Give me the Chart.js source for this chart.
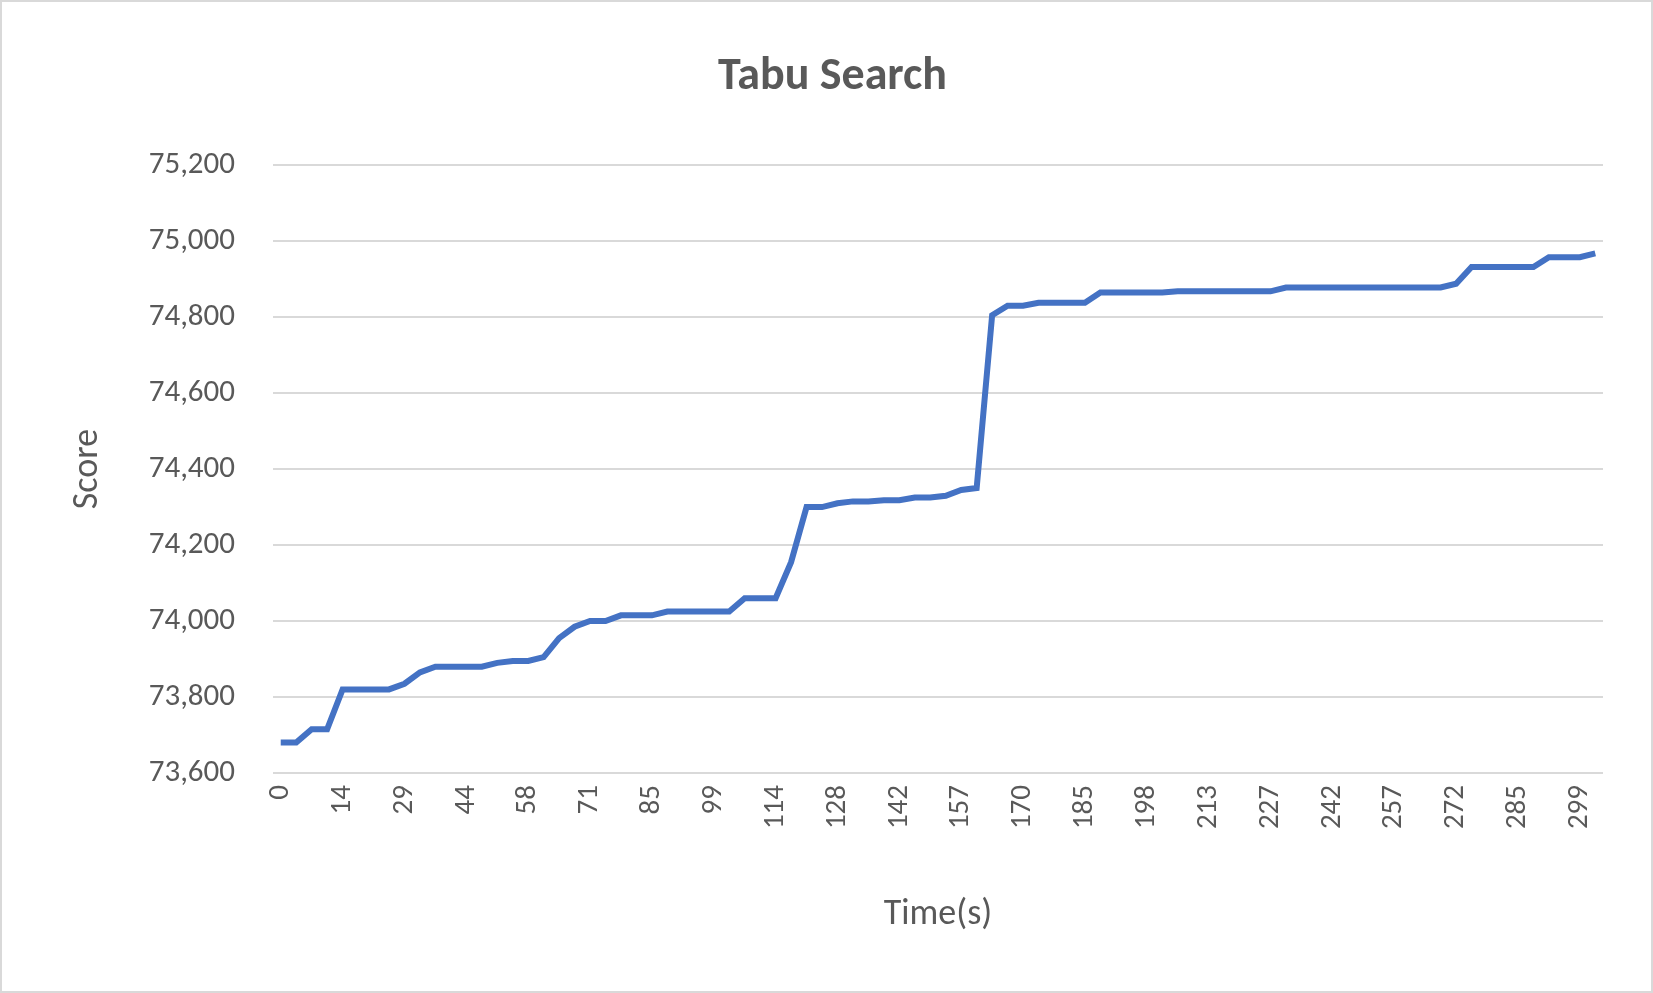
<!DOCTYPE html>
<html>
<head>
<meta charset="utf-8">
<script src="https://cdn.jsdelivr.net/npm/chart.js@4/dist/chart.umd.min.js"></script>
<style>
  html, body { margin: 0; padding: 0; background: #fff; }
  #wrap { position: absolute; left: 0; top: 0; width: 1649px; height: 989px; border: 2px solid #d9d9d9; }
</style>
</head>
<body>
<div id="wrap"><canvas id="chart" width="1649" height="989"></canvas></div>
<script>
// time labels (s), one per sample; only every 4th is shown on the axis
const timeLabels = [
  0, 4, 7, 11, 14, 18, 22, 25, 29, 33, 37, 40, 44, 47, 51, 54,
  58, 61, 64, 68, 71, 75, 78, 82, 85, 89, 92, 96, 99, 103, 107, 110,
  114, 117, 121, 124, 128, 132, 135, 139, 142, 146, 150, 153, 157, 160, 163, 167,
  170, 174, 178, 181, 185, 188, 191, 195, 198, 202, 206, 209, 213, 216, 220, 223,
  227, 231, 235, 238, 242, 246, 250, 253, 257, 261, 265, 268, 272, 275, 279, 282,
  285, 289, 292, 296, 299, 303
];

const scores = [
  73680, 73680, 73715, 73715, 73820, 73820, 73820, 73820, 73835, 73865, 73880, 73880, 73880, 73880, 73890, 73895,
  73895, 73905, 73955, 73985, 74000, 74000, 74015, 74015, 74015, 74025, 74025, 74025, 74025, 74025, 74060, 74060,
  74060, 74155, 74300, 74300, 74310, 74315, 74315, 74318, 74318, 74325, 74325, 74330, 74345, 74350, 74805, 74830,
  74830, 74838, 74838, 74838, 74838, 74865, 74865, 74865, 74865, 74865, 74868, 74868, 74868, 74868, 74868, 74868,
  74868, 74878, 74878, 74878, 74878, 74878, 74878, 74878, 74878, 74878, 74878, 74878, 74888, 74932, 74932, 74932,
  74932, 74932, 74958, 74958, 74958, 74968
];

const yTicks = [73600, 73800, 74000, 74200, 74400, 74600, 74800, 75000, 75200];

const grey = '#595959';
const font = 'Calibri, "Liberation Sans", "Open Sans", sans-serif';

new Chart(document.getElementById('chart'), {
  type: 'line',
  data: {
    labels: timeLabels,
    datasets: [{
      label: 'Score',
      data: scores,
      borderColor: '#4472c4',
      borderWidth: 6,
      pointRadius: 0,
      tension: 0,
      fill: false
    }]
  },
  options: {
    responsive: false,
    animation: false,
    layout: { padding: { left: 60, right: 48, top: 10, bottom: 50 } },
    plugins: {
      legend: { display: false },
      tooltip: { enabled: false },
      title: {
        display: true,
        text: 'Tabu Search',
        color: grey,
        font: { family: font, size: 46 },
        padding: { top: 38, bottom: 60 }
      }
    },
    scales: {
      x: {
        type: 'category',
        offset: true,
        grid: { display: false },
        border: { display: false },
        ticks: {
          color: grey,
          font: { family: font, size: 29 },
          autoSkip: false,
          minRotation: 90,
          maxRotation: 90,
          padding: 4,
          callback: function (value, index) {
            return index % 4 === 0 ? this.getLabelForValue(value) : null;
          }
        },
        title: {
          display: true,
          text: 'Time(s)',
          color: grey,
          font: { family: font, size: 36 },
          padding: { top: 10 }
        },
        afterFit: (axis) => { axis.height = 168; }
      },
      y: {
        min: 73600,
        max: 75200,
        afterBuildTicks: (axis) => { axis.ticks = yTicks.map(v => ({ value: v })); },
        grid: { color: '#d9d9d9', lineWidth: 2, drawTicks: false },
        border: { display: false },
        ticks: {
          color: grey,
          font: { family: font, size: 31 },
          padding: 38
        },
        title: {
          display: true,
          text: 'Score',
          color: grey,
          font: { family: font, size: 36 }
        },
        afterFit: (axis) => { axis.width = 211; }
      }
    }
  }
});
</script>
</body>
</html>
